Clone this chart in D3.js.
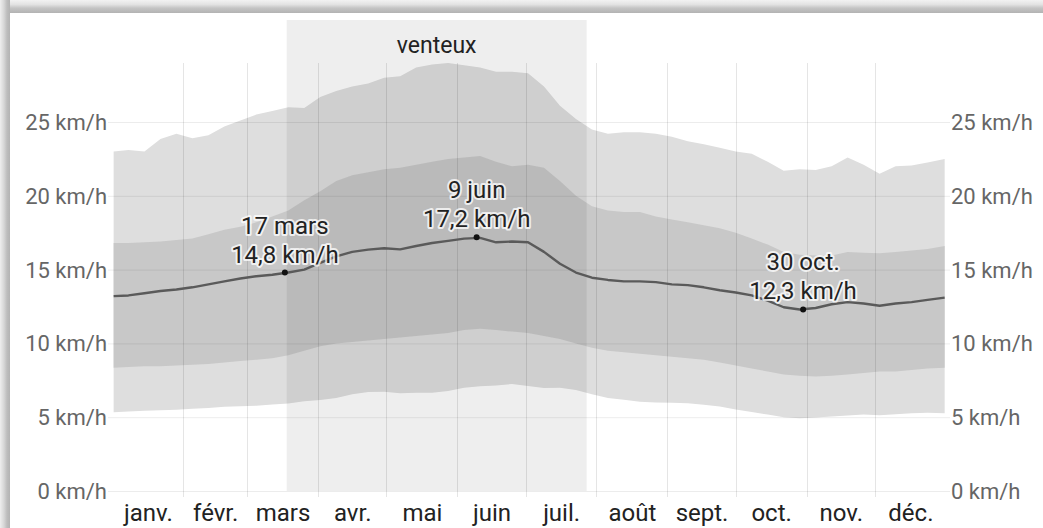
<!DOCTYPE html>
<html>
<head>
<meta charset="utf-8">
<script src="https://cdn.jsdelivr.net/npm/d3@7"></script>
<style>
  html, body { margin: 0; padding: 0; background: #fff; }
  svg { display: block; font-family: Roboto, "Noto Sans", sans-serif; }
</style>
</head>
<body>
<svg id="chart" width="1043" height="528"></svg>
<script>
// ---- data ----
const days = [0.5, 7, 14, 21, 28, 35, 42, 49, 56, 63, 70, 77, 84, 91, 98, 105, 112, 119, 126, 133,
  140, 147, 154, 161, 168, 175, 182, 189, 196, 203, 210, 217, 224, 231, 238, 245, 252, 259, 266,
  273, 280, 287, 294, 301, 308, 315, 322, 329, 336, 343, 350, 357, 364.5];

const p90 = [23.0, 23.1, 23.0, 23.85, 24.2, 23.9, 24.1, 24.7, 25.1, 25.5, 25.75, 26.0, 25.95, 26.7,
  27.1, 27.4, 27.6, 28.0, 28.1, 28.7, 28.9, 29.0, 28.85, 28.7, 28.4, 28.4, 28.3, 27.4, 26.1, 25.2,
  24.5, 24.2, 24.3, 24.3, 24.2, 24.0, 23.7, 23.5, 23.25, 23.0, 22.85, 22.3, 21.7, 21.8, 21.75, 22.0,
  22.6, 22.1, 21.5, 22.0, 22.05, 22.25, 22.5];

const p75 = [16.8, 16.8, 16.85, 16.9, 17.0, 17.1, 17.4, 17.7, 17.9, 18.2, 18.6, 19.0, 19.7, 20.3,
  21.0, 21.4, 21.6, 21.8, 21.9, 22.1, 22.3, 22.5, 22.6, 22.7, 22.3, 22.0, 22.1, 21.9, 21.0, 20.0,
  19.3, 19.0, 18.9, 18.9, 18.6, 18.4, 18.2, 18.0, 17.8, 17.5, 17.1, 16.7, 16.2, 16.0, 15.95, 15.95,
  16.2, 16.15, 16.1, 16.2, 16.3, 16.4, 16.6];

const median = [13.2, 13.25, 13.4, 13.55, 13.65, 13.8, 14.0, 14.2, 14.4, 14.55, 14.65, 14.8, 15.0,
  15.45, 15.9, 16.2, 16.35, 16.45, 16.37, 16.6, 16.8, 16.95, 17.1, 17.15, 16.85, 16.9, 16.85, 16.2,
  15.4, 14.8, 14.45, 14.3, 14.2, 14.2, 14.15, 14.0, 13.95, 13.8, 13.6, 13.45, 13.25, 12.9, 12.45,
  12.3, 12.4, 12.65, 12.8, 12.7, 12.55, 12.7, 12.8, 12.95, 13.1];

const p25 = [8.35, 8.4, 8.45, 8.45, 8.5, 8.55, 8.6, 8.7, 8.8, 8.9, 9.0, 9.2, 9.5, 9.8, 10.0, 10.1,
  10.2, 10.3, 10.4, 10.5, 10.6, 10.7, 10.9, 11.0, 10.9, 10.8, 10.7, 10.5, 10.3, 10.0, 9.7, 9.5, 9.4,
  9.3, 9.2, 9.1, 9.0, 8.9, 8.7, 8.5, 8.3, 8.1, 7.9, 7.8, 7.75, 7.8, 7.9, 8.0, 8.1, 8.1, 8.2, 8.3, 8.35];

const p10 = [5.33, 5.38, 5.43, 5.47, 5.5, 5.57, 5.63, 5.7, 5.74, 5.78, 5.86, 5.93, 6.08, 6.17, 6.3,
  6.55, 6.7, 6.72, 6.62, 6.65, 6.65, 6.77, 7.0, 7.1, 7.15, 7.25, 7.12, 6.98, 7.0, 6.85, 6.55, 6.3,
  6.18, 6.05, 6.0, 5.98, 5.95, 5.85, 5.72, 5.53, 5.35, 5.18, 4.99, 4.93, 4.98, 5.04, 5.12, 5.18,
  5.13, 5.2, 5.27, 5.3, 5.26];

const monthLabels = ["janv.", "févr.", "mars", "avr.", "mai", "juin", "juil.", "août", "sept.", "oct.", "nov.", "déc."];
const monthStarts = [0, 31, 59, 90, 120, 151, 181, 212, 243, 273, 304, 334, 365];
const yTicks = [0, 5, 10, 15, 20, 25];
const yTickLabels = ["0 km/h", "5 km/h", "10 km/h", "15 km/h", "20 km/h", "25 km/h"];

const windySeason = [76.3, 207.7];
const windyLabel = "venteux";

const annotDays = [75.5, 159.5, 302.5];
const annotValues = [14.8, 17.2, 12.3];
const annotDates = ["17 mars", "9 juin", "30 oct."];
const annotTexts = ["14,8 km/h", "17,2 km/h", "12,3 km/h"];

// ---- drawing ----
const W = 1043, H = 528;
const svg = d3.select("#chart");
const defs = svg.append("defs");

const x = d3.scaleLinear().domain([0, 365]).range([112.5, 945.8]);
const y = d3.scaleLinear().domain([0, 25]).range([491, 122]);

// frame shadow
const gTop = defs.append("linearGradient").attr("id", "gTop").attr("x1", 0).attr("y1", 0).attr("x2", 0).attr("y2", 1);
gTop.append("stop").attr("offset", "0%").attr("stop-color", "#f2f2f2");
gTop.append("stop").attr("offset", "35%").attr("stop-color", "#e2e2e2");
gTop.append("stop").attr("offset", "62%").attr("stop-color", "#c4c4c4");
gTop.append("stop").attr("offset", "100%").attr("stop-color", "#b3b3b3");
const gLeft = defs.append("linearGradient").attr("id", "gLeft").attr("x1", 0).attr("y1", 0).attr("x2", 1).attr("y2", 0);
gLeft.append("stop").attr("offset", "0%").attr("stop-color", "#eeeeee");
gLeft.append("stop").attr("offset", "40%").attr("stop-color", "#d6d6d6");
gLeft.append("stop").attr("offset", "70%").attr("stop-color", "#bdbdbd");
gLeft.append("stop").attr("offset", "100%").attr("stop-color", "#b3b3b3");

svg.append("rect").attr("width", W).attr("height", H).attr("fill", "#fff");
svg.append("rect").attr("x", 0).attr("y", 0).attr("width", W).attr("height", 13).attr("fill", "url(#gTop)");
svg.append("rect").attr("x", 0).attr("y", 0).attr("width", 10).attr("height", H).attr("fill", "url(#gLeft)");

const rows = days.map((d, i) => ({ d, p10: p10[i], p25: p25[i], med: median[i], p75: p75[i], p90: p90[i] }));

// bands
svg.append("path").datum(rows)
  .attr("d", d3.area().x(r => x(r.d)).y0(r => y(r.p10)).y1(r => y(r.p90)))
  .attr("fill", "#dedede");
svg.append("path").datum(rows)
  .attr("d", d3.area().x(r => x(r.d)).y0(r => y(r.p25)).y1(r => y(r.p75)))
  .attr("fill", "#c8c8c8");

// windy season highlight
svg.append("rect")
  .attr("x", x(windySeason[0])).attr("y", 20)
  .attr("width", x(windySeason[1]) - x(windySeason[0]))
  .attr("height", y(0) - 20)
  .attr("fill", "rgba(0,0,0,0.068)");
svg.append("text")
  .attr("x", (x(windySeason[0]) + x(windySeason[1])) / 2).attr("y", 53)
  .attr("text-anchor", "middle").attr("font-size", 23).attr("fill", "#222")
  .text(windyLabel);

// gridlines
svg.append("g").selectAll("line").data(yTicks).join("line")
  .attr("x1", 108).attr("x2", 950)
  .attr("y1", d => y(d) + 0.5).attr("y2", d => y(d) + 0.5)
  .attr("stroke", "rgba(0,0,0,0.075)").attr("stroke-width", 1);
svg.append("g").selectAll("line").data(monthStarts.slice(1, 12)).join("line")
  .attr("x1", d => Math.round(x(d)) + 0.5).attr("x2", d => Math.round(x(d)) + 0.5)
  .attr("y1", 63).attr("y2", 497)
  .attr("stroke", "rgba(0,0,0,0.1)").attr("stroke-width", 1);

// axes
const yLeft = svg.append("g").attr("transform", "translate(108,0)")
  .call(d3.axisLeft(y).tickValues(yTicks).tickSize(0).tickPadding(1)
    .tickFormat((d, i) => yTickLabels[i]));
const yRight = svg.append("g").attr("transform", "translate(950,0)")
  .call(d3.axisRight(y).tickValues(yTicks).tickSize(0).tickPadding(1)
    .tickFormat((d, i) => yTickLabels[i]));
[yLeft, yRight].forEach(g => {
  g.select(".domain").remove();
  g.selectAll("text").attr("font-family", "Roboto, sans-serif").attr("font-size", 22)
    .attr("fill", "#666").attr("dy", "0.34em");
});

const monthMids = monthLabels.map((m, i) => (monthStarts[i] + monthStarts[i + 1]) / 2);
const xAxis = svg.append("g").attr("transform", "translate(0,491)")
  .call(d3.axisBottom(x).tickValues(monthMids).tickSize(0).tickPadding(0)
    .tickFormat((d, i) => monthLabels[i]));
xAxis.select(".domain").remove();
xAxis.selectAll("text").attr("font-family", "Roboto, sans-serif").attr("font-size", 24)
  .attr("fill", "#222").attr("dy", null).attr("y", 30);

// median line
svg.append("path").datum(rows)
  .attr("d", d3.line().x(r => x(r.d)).y(r => y(r.med)))
  .attr("fill", "none").attr("stroke", "#5a5a5a").attr("stroke-width", 2.4)
  .attr("stroke-linejoin", "round");

// annotations
const ann = svg.append("g").selectAll("g").data(annotDays).join("g");
ann.append("circle")
  .attr("cx", (d) => x(d)).attr("cy", (d, i) => y(annotValues[i]))
  .attr("r", 3).attr("fill", "#111");
ann.append("text")
  .attr("x", d => x(d)).attr("y", (d, i) => y(annotValues[i]) - 39)
  .attr("text-anchor", "middle").attr("font-size", 24).attr("fill", "#222")
  .attr("stroke", "rgba(255,255,255,0.75)").attr("stroke-width", 4).attr("paint-order", "stroke")
  .attr("stroke-linejoin", "round")
  .text((d, i) => annotDates[i]);
ann.append("text")
  .attr("x", d => x(d)).attr("y", (d, i) => y(annotValues[i]) - 10)
  .attr("text-anchor", "middle").attr("font-size", 24).attr("fill", "#222")
  .attr("stroke", "rgba(255,255,255,0.75)").attr("stroke-width", 4).attr("paint-order", "stroke")
  .attr("stroke-linejoin", "round")
  .text((d, i) => annotTexts[i]);
</script>
</body>
</html>
